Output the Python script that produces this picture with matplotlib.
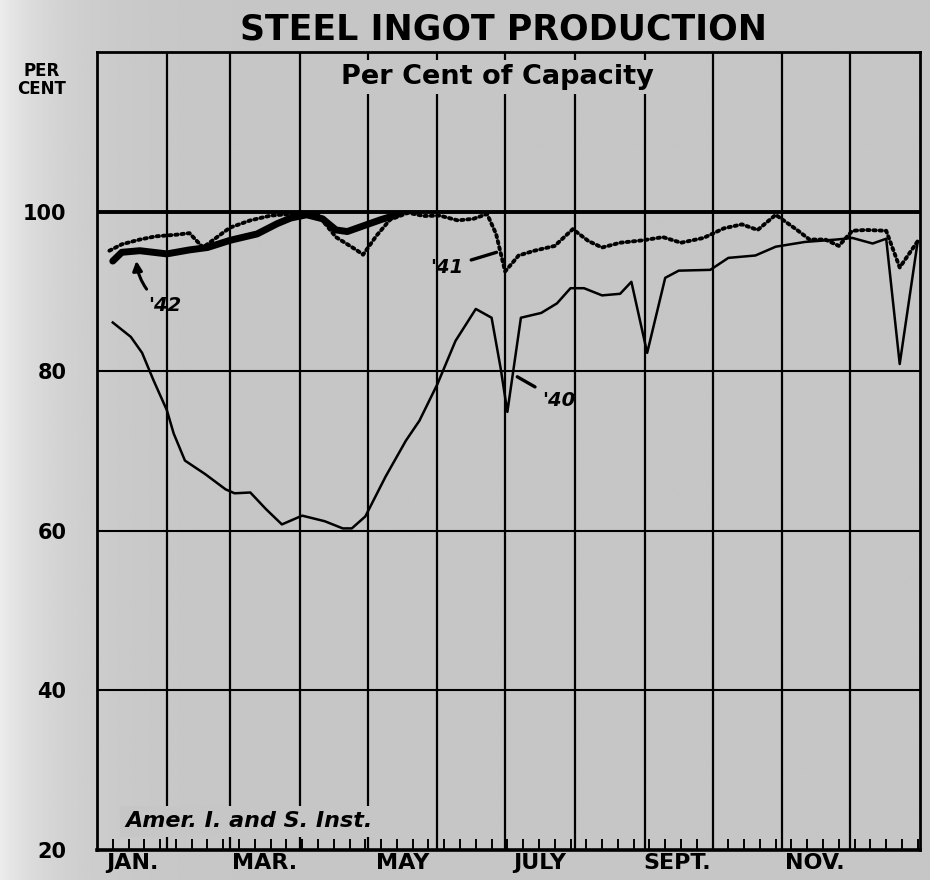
import numpy as np
import matplotlib
matplotlib.use('Agg')
import matplotlib.pyplot as plt

# x = day of year, y = per cent of capacity
days_40 = [7, 15, 20, 25, 31, 34, 39, 48, 57, 61, 68, 75, 82, 91, 101, 109, 113, 119, 128, 137,
           143, 151, 159, 168, 175, 179, 182, 188, 197, 204, 210, 216, 224, 232, 237, 244, 252, 258,
           272, 280, 292, 301, 314, 328, 335, 344, 350, 356, 364]
vals_40 = [86.1, 84.3, 82.3, 78.9, 75.1, 72.2, 68.8, 67.1, 65.2, 64.7, 64.8, 62.7, 60.8, 61.9, 61.2,
           60.3, 60.3, 61.8, 66.8, 71.3, 73.8, 78.4, 83.8, 87.8, 86.7, 80.4, 74.9, 86.7, 87.3, 88.5,
           90.4, 90.4, 89.5, 89.7, 91.2, 82.3, 91.7, 92.6, 92.7, 94.2, 94.5, 95.6, 96.2, 96.5, 96.7,
           96.0, 96.6, 80.9, 96.3]

days_41 = [5.5, 11, 19, 26, 35, 41, 47, 59, 68, 77, 86, 98, 106, 115, 118, 124, 130, 138, 145, 152,
           160, 167, 173, 177, 181, 187, 194, 203, 211, 218, 224, 232, 242, 251, 259, 269, 278, 286,
           293, 301, 310, 316, 323, 329, 335, 341, 350, 356, 364]
vals_41 = [95.1, 95.9, 96.5, 96.9, 97.1, 97.3, 95.5, 98.0, 98.9, 99.5, 99.7, 99.6, 96.8, 95.2, 94.6,
           97.0, 99.0, 99.85, 99.45, 99.5, 98.9, 99.1, 99.7, 97.2, 92.5, 94.5, 95.1, 95.7, 97.8, 96.3,
           95.5, 96.1, 96.4, 96.8, 96.1, 96.7, 97.9, 98.4, 97.7, 99.6, 97.8, 96.5, 96.5, 95.7, 97.6,
           97.7, 97.6, 93.0, 96.3]

days_42 = [7, 11, 19, 31, 41, 49, 59, 71, 80, 86, 93, 100, 106, 111, 120, 126, 133]
vals_42 = [93.8, 94.9, 95.1, 94.7, 95.2, 95.5, 96.4, 97.2, 98.5, 99.2, 99.6, 99.1, 97.7, 97.5,
           98.4, 99.0, 99.6]

month_ends = [31, 59, 90, 120, 151, 181, 212, 243, 273, 304, 334]
label_days = [15.5, 74.5, 135.5, 196.5, 257.5, 318.5]
month_labels = ['JAN.', 'MAR.', 'MAY', 'JULY', 'SEPT.', 'NOV.']
y_ticks = [20, 40, 60, 80, 100]


def paper(x):
    # scanned paper: lighter towards the left edge
    return 0.775 + 0.15 * np.exp(-x / 0.06)


fig = plt.figure(figsize=(9.3, 8.8), dpi=100)

bg = fig.add_axes([0, 0, 1, 1], zorder=-10)
xs = np.linspace(0, 1, 400)
bg.imshow(np.tile(paper(xs), (10, 1)), cmap='gray', vmin=0, vmax=1, aspect='auto',
          extent=[0, 1, 0, 1])
bg.axis('off')

ax = fig.add_axes([97 / 930, 30 / 880, 823 / 930, 798 / 880])
ax.set_facecolor('none')
ax.set_xlim(0, 365)
ax.set_ylim(20, 120)

for v in [40, 60, 80]:
    ax.axhline(v, color='black', lw=1.5, zorder=1)
ax.axhline(100, color='black', lw=2.8, zorder=1)
for d in month_ends:
    ax.axvline(d, color='black', lw=1.6, zorder=1)

for s in ax.spines.values():
    s.set_linewidth(2)
ax.spines['bottom'].set_linewidth(2.6)

ax.plot(days_40, vals_40, color='black', lw=1.8, zorder=4)
ax.plot(days_41, vals_41, color='black', lw=2.8, linestyle=(0, (0.6, 1.0)),
        dash_capstyle='round', zorder=4)
ax.plot(days_42, vals_42, color='black', lw=5, solid_capstyle='round', zorder=5)

# ticks
ax.set_yticks(y_ticks)
ax.set_yticklabels([str(v) for v in y_ticks], fontsize=15, fontweight='bold')
ax.tick_params(axis='y', length=0, pad=22)
ax.set_xticks(label_days)
ax.set_xticklabels(month_labels, fontsize=16, fontweight='bold')
ax.tick_params(axis='x', which='major', length=0, pad=2)
ax.set_xticks(np.arange(7, 365, 7), minor=True)
ax.tick_params(axis='x', which='minor', direction='in', length=8, width=1.4)

# labels on the lines
lab = dict(fontsize=14, fontweight='bold', fontstyle='italic', ha='center', va='center', zorder=6)
ax.annotate("'42", xy=(17.4, 94.0), xytext=(30, 88.2),
            arrowprops=dict(arrowstyle='-|>', color='black', lw=2.2, mutation_scale=14,
                            connectionstyle='arc3,rad=-0.25', shrinkA=4, shrinkB=1), **lab)
ax.annotate("'41", xy=(177.2, 94.9), xytext=(155, 93.0),
            arrowprops=dict(arrowstyle='-', color='black', lw=2.4, shrinkA=4, shrinkB=0), **lab)
ax.annotate("'40", xy=(186.4, 79.3), xytext=(205, 76.3),
            arrowprops=dict(arrowstyle='-', color='black', lw=2.4, shrinkA=4, shrinkB=0), **lab)

ax.text(0.486, 0.969, 'Per Cent of Capacity', transform=ax.transAxes, ha='center', va='center',
        fontsize=19.5, fontweight='bold', zorder=6,
        bbox=dict(facecolor=str(paper(0.53)), edgecolor='none', pad=3))
ax.text(0.035, 0.036, 'Amer. I. and S. Inst.', transform=ax.transAxes, ha='left', va='center',
        fontsize=16, fontweight='bold', fontstyle='italic', zorder=6,
        bbox=dict(facecolor=str(paper(0.25)), edgecolor='none', pad=4))

fig.text(503 / 930, 1 - 29 / 880, 'STEEL INGOT PRODUCTION', ha='center', va='center',
         fontsize=25, fontweight='bold')
fig.text(42 / 930, 1 - 80 / 880, 'PER\nCENT', ha='center', va='center',
         fontsize=12, fontweight='bold', linespacing=0.95)

fig.savefig('out.png', dpi=100)
